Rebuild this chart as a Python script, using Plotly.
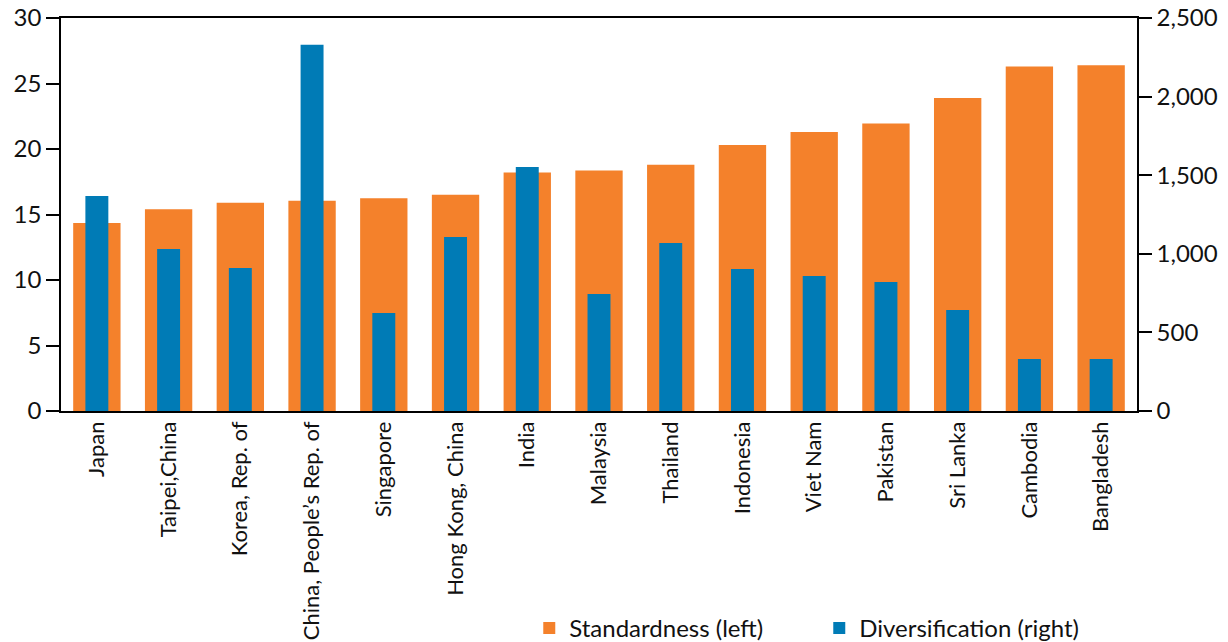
import plotly.graph_objects as go

categories = ["Japan", "Taipei,China", "Korea, Rep. of", "China, People\u2019s Rep. of",
              "Singapore", "Hong Kong, China", "India", "Malaysia", "Thailand",
              "Indonesia", "Viet Nam", "Pakistan", "Sri Lanka", "Cambodia", "Bangladesh"]
standardness = [14.35, 15.4, 15.9, 16.05, 16.25, 16.5, 18.2, 18.35, 18.8,
                20.3, 21.3, 21.95, 23.9, 26.3, 26.4]
diversification = [1368, 1030, 910, 2330, 623, 1107, 1552, 744, 1069,
                   903, 859, 821, 642, 331, 331]

ORANGE = "#F4812B"
BLUE = "#007BB6"
FONT = "Lato"

fig = go.Figure()
fig.add_trace(go.Bar(x=categories, y=standardness, name="Standardness (left)",
                     marker=dict(color=ORANGE, line=dict(width=0)), width=0.66, yaxis="y"))
fig.add_trace(go.Bar(x=categories, y=diversification, name="Diversification (right)",
                     marker=dict(color=BLUE, line=dict(width=0)), width=0.32, yaxis="y2"))

fig.update_layout(
    width=1228, height=642,
    margin=dict(l=61, r=91, t=18, b=231),
    paper_bgcolor="white", plot_bgcolor="white",
    barmode="overlay",
    font=dict(family=FONT, size=24, color="#111"),
    showlegend=True,
    legend=dict(orientation="h", xref="container", yref="container",
                x=0.431, y=0.021, xanchor="left", yanchor="middle",
                font=dict(size=24), traceorder="normal", itemwidth=30,
                tracegroupgap=0, entrywidthmode="pixels", entrywidth=245),
    xaxis=dict(showline=True, linecolor="black", linewidth=1.5, mirror=True,
               ticks="", tickangle=-90, tickfont=dict(size=22), showgrid=False,
               range=[-0.5, 14.5], automargin=False),
    yaxis=dict(range=[0, 30], dtick=5, showline=True, linecolor="black", linewidth=1.5,
               ticks="outside", ticklen=13, tickcolor="black", tickwidth=1.5,
               showgrid=False, zeroline=False, tickfont=dict(size=24), automargin=False),
    yaxis2=dict(range=[0, 2500], dtick=500, overlaying="y", side="right",
                showline=True, linecolor="black", linewidth=1.5,
                ticks="outside", ticklen=13, tickcolor="black", tickwidth=1.5,
                tickformat=",", showgrid=False, zeroline=False, tickfont=dict(size=24),
                automargin=False),
)

fig.write_html("out.html", config={"displayModeBar": False},
               post_script="document.body.style.margin='0px';")
